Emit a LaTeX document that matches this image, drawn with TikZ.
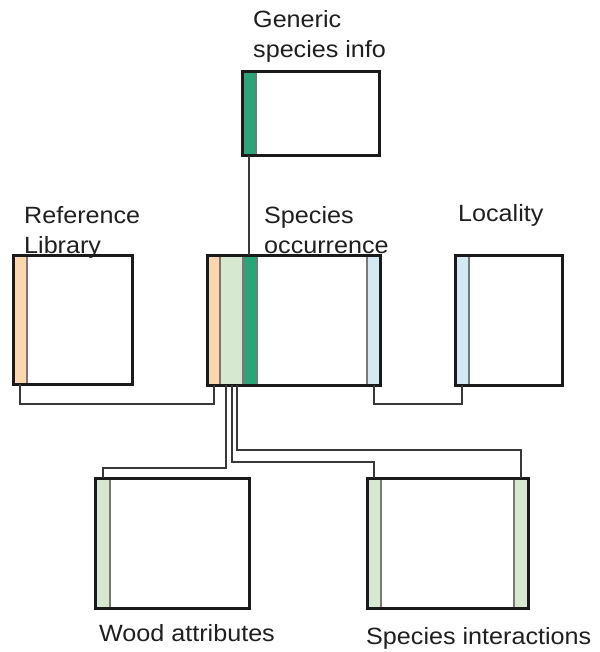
\documentclass[tikz,border=0pt]{standalone}
\usepackage{fontspec}
\setmainfont[FakeStretch=1.07]{Liberation Sans}
\usetikzlibrary{calc}
\definecolor{peach}{HTML}{FCD6AE}
\definecolor{palegreen}{HTML}{D6E8D0}
\definecolor{deepgreen}{HTML}{2CA47A}
\definecolor{paleblue}{HTML}{D3EAF2}
\definecolor{rim}{HTML}{1A1A1A}
\definecolor{seam}{HTML}{787878}
\definecolor{wirec}{HTML}{383838}

\begin{document}
\begin{tikzpicture}[x=1pt,y=-1pt,
  tbl/.style={rectangle, inner sep=0pt, outer sep=0pt, anchor=north west, fill=white},
  band/.style={rectangle, inner sep=0pt, outer sep=0pt, anchor=north west, draw=seam, line width=1.6pt},
  rimline/.style={draw=rim, line width=3pt},
  wire/.style={draw=wirec, line width=2pt, line join=miter},
  lbl/.style={anchor=base west, inner sep=0pt, font=\fontsize{23.5}{30}\selectfont, align=left, text=black!88}
]
\useasboundingbox (0,0) rectangle (599,652);

% ---- tables ----
\node[tbl, minimum width=137pt, minimum height=84pt] (gen) at (242,72) {};
\node[band, fill=deepgreen, minimum width=14pt, minimum height=84pt] (genG) at (242,72) {};
\draw[rimline] (gen.north west) rectangle (gen.south east);

\node[tbl, minimum width=119pt, minimum height=129pt] (ref) at (13,255) {};
\node[band, fill=peach, minimum width=14pt, minimum height=129pt] (refO) at (13,255) {};
\draw[rimline] (ref.north west) rectangle (ref.south east);

\node[tbl, minimum width=173pt, minimum height=130pt] (occ) at (207,255) {};
\node[band, fill=peach, minimum width=13pt, minimum height=130pt] (occO) at (207,255) {};
\node[band, fill=palegreen, minimum width=23pt, minimum height=130pt] (occL) at (220,255) {};
\node[band, fill=deepgreen, minimum width=14pt, minimum height=130pt] (occG) at (243,255) {};
\node[band, fill=paleblue, minimum width=13pt, minimum height=130pt] (occB) at (367,255) {};
\draw[rimline] (occ.north west) rectangle (occ.south east);

\node[tbl, minimum width=107pt, minimum height=130pt] (loc) at (455,255) {};
\node[band, fill=paleblue, minimum width=14pt, minimum height=130pt] (locB) at (455,255) {};
\draw[rimline] (loc.north west) rectangle (loc.south east);

\node[tbl, minimum width=154pt, minimum height=130pt] (wood) at (95,478) {};
\node[band, fill=palegreen, minimum width=15pt, minimum height=130pt] (woodL) at (95,478) {};
\draw[rimline] (wood.north west) rectangle (wood.south east);

\node[tbl, minimum width=161pt, minimum height=130pt] (inter) at (367,478) {};
\node[band, fill=palegreen, minimum width=14pt, minimum height=130pt] (interL) at (367,478) {};
\node[band, fill=palegreen, minimum width=14pt, minimum height=130pt] (interR) at (514,478) {};
\draw[rimline] (inter.north west) rectangle (inter.south east);

% ---- links ----
\draw[wire] (genG.south) -- (genG.south |- occG.north);
\draw[wire] (refO.south) -- ++(0,19.5) -| (occO.south);
\draw[wire] (occB.south) -- ++(0,19) -| (locB.south);
\draw[wire] ($(occL.south)+(-5.5,0)$) |- (102.5,468) -- (woodL.north);
\draw[wire] ($(occL.south)+(0.5,0)$) |- (374,462) -- (interL.north);
\draw[wire] ($(occL.south)+(5.5,0)$) |- (521,450) -- (interR.north);

% ---- labels (anchored at the baseline of their last line) ----
\node[lbl] (tGen) at (253,58) {Generic\\species info};
\node[lbl] (tRef) at (24,253) {Reference\\Library};
\node[lbl] (tOcc) at (264,253) {Species\\occurrence};
\node[lbl] (tLoc) at (458,222) {Locality};
\node[lbl] (tWood) at (99,641) {Wood attributes};
\node[lbl] (tInt) at (366,644) {Species interactions};
\end{tikzpicture}
\end{document}
